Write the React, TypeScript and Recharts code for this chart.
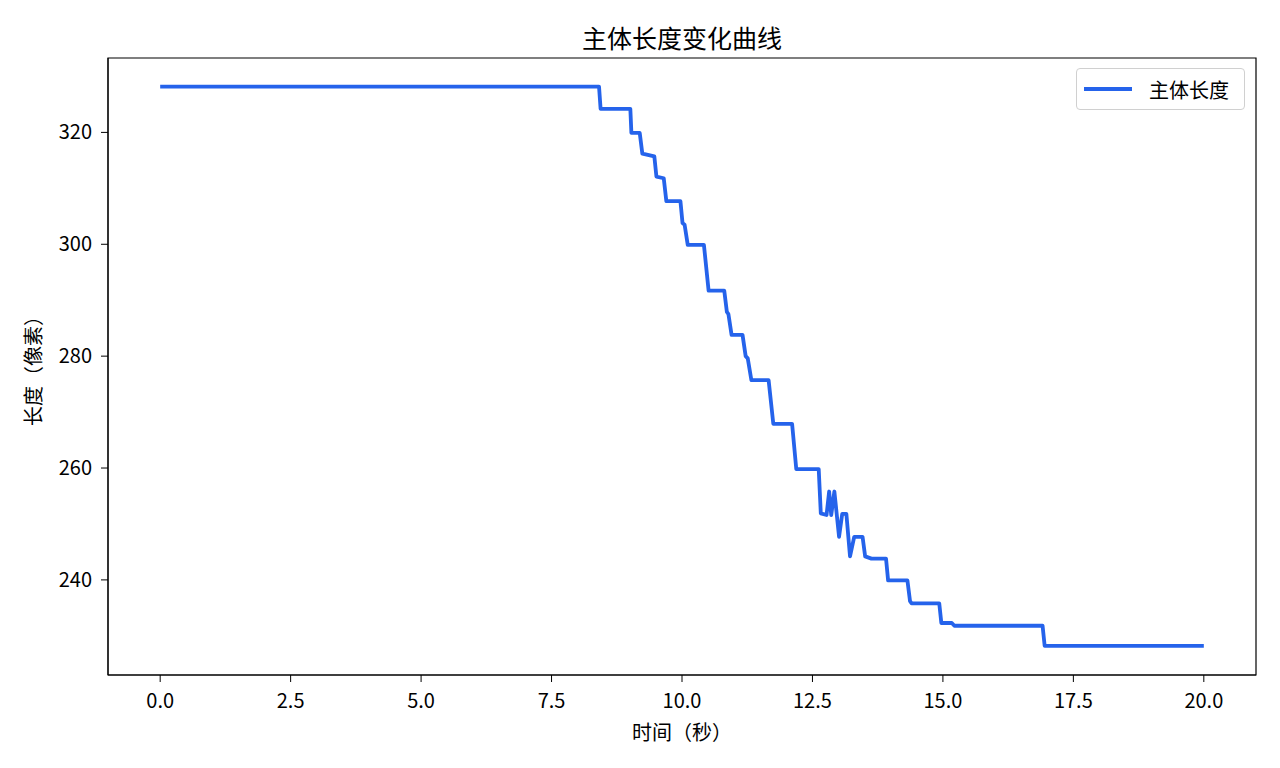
import { Line, LineChart, ReferenceArea, XAxis, YAxis } from "recharts";

// 时间（秒）与主体长度（像素），按图中折线读取
const times = [
  0, 8.41, 8.44, 9.01, 9.03, 9.19, 9.24, 9.47, 9.51, 9.65,
  9.7, 9.97, 10.01, 10.05, 10.11, 10.42, 10.51, 10.81, 10.86, 10.89,
  10.95, 11.16, 11.22, 11.26, 11.33, 11.66, 11.75, 12.11, 12.19, 12.62,
  12.66, 12.77, 12.82, 12.86, 12.92, 13.01, 13.07, 13.15, 13.22, 13.3,
  13.46, 13.51, 13.63, 13.91, 13.95, 14.32, 14.37, 14.4, 14.93, 14.97,
  15.17, 15.22, 16.91, 16.95, 20.0,
];

const lengths = [
  328.2, 328.2, 324.2, 324.2, 319.9, 319.9, 316.2, 315.7, 312.1, 311.8,
  307.7, 307.7, 303.8, 303.5, 299.9, 299.9, 291.7, 291.7, 287.9, 287.5,
  283.8, 283.8, 280.0, 279.6, 275.7, 275.7, 267.9, 267.9, 259.8, 259.8,
  251.9, 251.6, 255.8, 251.6, 255.8, 247.7, 251.8, 251.8, 244.2, 247.7,
  247.7, 244.2, 243.8, 243.8, 239.9, 239.9, 236.2, 235.8, 235.8, 232.3,
  232.3, 231.8, 231.8, 228.2, 228.2,
];

const xTicks = [0, 2.5, 5, 7.5, 10, 12.5, 15, 17.5, 20];
const yTicks = [240, 260, 280, 300, 320];

const xDomain: [number, number] = [-1, 21];
const yDomain: [number, number] = [223, 333.3];

const FONT = '"Noto Sans CJK SC", "Noto Sans", sans-serif';
const LINE_COLOR = "#2563eb";

const data = times.map((t, i) => ({ t, length: lengths[i] }));

function LegendBox() {
  return (
    <div
      style={{
        position: "absolute",
        left: 1076,
        top: 68,
        display: "flex",
        alignItems: "center",
        boxSizing: "border-box",
        width: 169,
        height: 42,
        border: "1px solid #d0d0d0",
        borderRadius: 4,
        background: "rgba(255,255,255,0.8)",
        fontFamily: FONT,
        fontSize: 20,
        color: "#000",
      }}
    >
      <span style={{ display: "inline-block", width: 48, height: 4, background: LINE_COLOR, marginLeft: 7, marginRight: 17 }} />
      <span>主体长度</span>
    </div>
  );
}

export default function App() {
  const tickStyle = { fontFamily: FONT, fontSize: 20, fill: "#000" };
  return (
    <div style={{ position: "absolute", left: 0, top: 0, width: 1280, height: 768, background: "#fff" }}>
      <div
        style={{
          position: "absolute",
          left: 108,
          width: 1148,
          top: 20,
          textAlign: "center",
          fontFamily: FONT,
          fontSize: 25,
          lineHeight: "34px",
          color: "#000",
        }}
      >
        主体长度变化曲线
      </div>
      <div
        style={{
          position: "absolute",
          left: 108,
          width: 1148,
          top: 718,
          textAlign: "center",
          fontFamily: FONT,
          fontSize: 20,
          lineHeight: "28px",
          color: "#000",
        }}
      >
        时间（秒）
      </div>
      <div
        style={{
          position: "absolute",
          left: 33 - 150,
          top: 366 - 14,
          width: 300,
          textAlign: "center",
          transform: "rotate(-90deg)",
          fontFamily: FONT,
          fontSize: 20,
          lineHeight: "28px",
          color: "#000",
        }}
      >
        长度（像素）
      </div>
      <LineChart width={1280} height={768} data={data} margin={{ top: 58, right: 24, bottom: 0, left: 0 }}>
        <XAxis
          dataKey="t"
          type="number"
          domain={xDomain}
          ticks={xTicks}
          tickFormatter={(v: number) => v.toFixed(1)}
          height={93}
          tickSize={7}
          tickMargin={12}
          stroke="#000"
          tick={tickStyle}
          allowDataOverflow
        />
        <YAxis
          type="number"
          domain={yDomain}
          ticks={yTicks}
          width={108}
          tickSize={7}
          tickMargin={9}
          stroke="#000"
          tick={tickStyle}
          allowDataOverflow
        />
        <ReferenceArea
          x1={xDomain[0]}
          x2={xDomain[1]}
          y1={yDomain[0]}
          y2={yDomain[1]}
          fill="none"
          stroke="#000"
          strokeWidth={1.2}
          ifOverflow="visible"
        />
        <Line
          type="linear"
          dataKey="length"
          stroke={LINE_COLOR}
          strokeWidth={3.8}
          strokeLinejoin="round"
          dot={false}
          activeDot={false}
          isAnimationActive={false}
        />
      </LineChart>
      <LegendBox />
    </div>
  );
}
